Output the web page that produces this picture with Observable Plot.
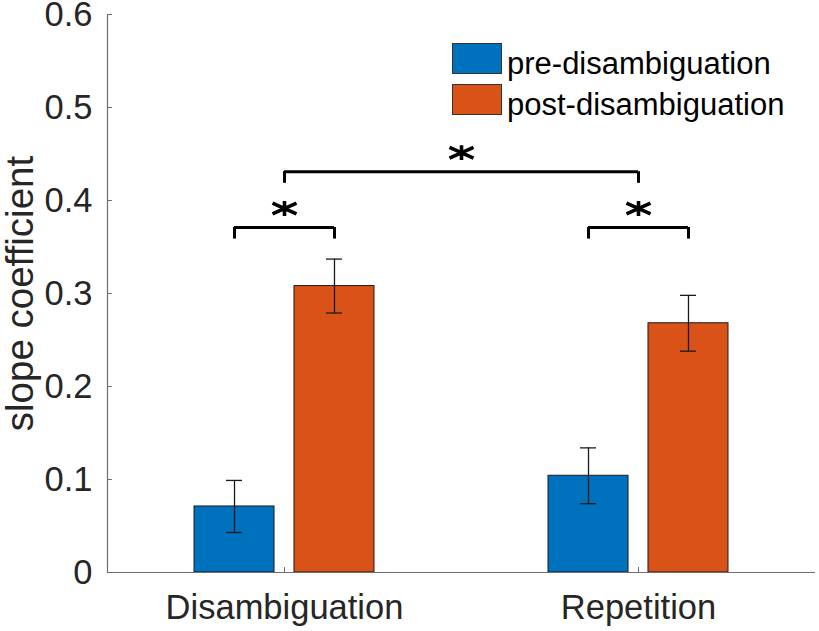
<!DOCTYPE html>
<html><head><meta charset="utf-8">
<script src="https://cdn.jsdelivr.net/npm/d3@7"></script>
<script src="https://cdn.jsdelivr.net/npm/@observablehq/plot@0.6"></script>
<style>
body{margin:0;background:#fff;}
#wrap{position:relative;width:819px;height:631px;font-family:"Liberation Sans",Arial,Helvetica,sans-serif;}
#wrap svg{overflow:visible;}
#legend{position:absolute;left:452px;top:43px;font-size:31px;color:#000;line-height:1;}
#legend .item{display:flex;align-items:center;height:41px;}
#legend .sw{width:48px;height:29px;border:1px solid #333;margin-right:5px;margin-top:-10px;}
</style></head><body><div id="wrap"><div id="legend"></div></div>
<script>
// ---- data ----
const categories = ["Disambiguation", "Repetition"];
const series = ["pre-disambiguation", "post-disambiguation"];
const preValues = [0.071, 0.104];
const preErrors = [0.028, 0.030];
const postValues = [0.308, 0.268];
const postErrors = [0.029, 0.030];
const yTicks = [0, 0.1, 0.2, 0.3, 0.4, 0.5, 0.6];
const colors = ["#0072BD", "#D95319"];
// significance brackets: between bars {group, series} or groups
const sigPairs = [
  {from: {group: 0, series: 0}, to: {group: 0, series: 1}, y: 0.371, label: "*"},
  {from: {group: 1, series: 0}, to: {group: 1, series: 1}, y: 0.371, label: "*"},
  {from: {group: 0}, to: {group: 1}, y: 0.431, label: "*"}
];

// ---- layout constants (MATLAB grouped bar geometry) ----
const barOffset = 0.1412, barWidth = 0.226, capHalf = 0.0226, drop = 0.0125;
const xPos = (g, s) => g + 1 + (s == null ? 0 : (s === 0 ? -barOffset : barOffset));

const rows = [];
categories.forEach((c, g) => {
  rows.push({category: c, series: series[0], value: preValues[g], err: preErrors[g], x: xPos(g, 0)});
  rows.push({category: c, series: series[1], value: postValues[g], err: postErrors[g], x: xPos(g, 1)});
});
const brackets = sigPairs.map(p => ({
  x1: xPos(p.from.group, p.from.series), x2: xPos(p.to.group, p.to.series), y: p.y, label: p.label
}));

const star = {
  draw(ctx, size) {
    const r = Math.sqrt(size / Math.PI);
    ctx.moveTo(0, -0.62 * r); ctx.lineTo(0, 0.62 * r);
    ctx.moveTo(-r, -0.45 * r); ctx.lineTo(r, 0.45 * r);
    ctx.moveTo(-r, 0.45 * r); ctx.lineTo(r, -0.45 * r);
  }
};

const axisGray = "#6e6e6e";
const textColor = "#262626";

const chart = Plot.plot({
  width: 819, height: 631,
  marginLeft: 107, marginRight: 4, marginTop: 14, marginBottom: 59,
  style: {fontFamily: "'Liberation Sans', Arial, Helvetica, sans-serif", color: textColor, background: "#fff", overflow: "visible"},
  x: {domain: [0.5, 2.5]},
  y: {domain: [0, 0.6]},
  color: {domain: series, range: colors},
  marks: [
    Plot.rectY(rows, {x1: d => d.x - barWidth / 2, x2: d => d.x + barWidth / 2, y1: 0, y2: "value", fill: "series", stroke: "#1a1a1a", strokeWidth: 1}),
    Plot.ruleX(rows, {x: "x", y1: d => d.value - d.err, y2: d => d.value + d.err, stroke: "#1a1a1a", strokeWidth: 1.3}),
    Plot.ruleY(rows, {y: d => d.value - d.err, x1: d => d.x - capHalf, x2: d => d.x + capHalf, stroke: "#1a1a1a", strokeWidth: 1.3}),
    Plot.ruleY(rows, {y: d => d.value + d.err, x1: d => d.x - capHalf, x2: d => d.x + capHalf, stroke: "#1a1a1a", strokeWidth: 1.3}),
    // axes lines
    Plot.ruleY([0], {stroke: axisGray, strokeWidth: 1.2}),
    Plot.ruleX([0.5], {y1: 0, y2: 0.6, stroke: axisGray, strokeWidth: 1.2}),
    // inward ticks
    Plot.axisY({ticks: yTicks, tickSize: 5, dx: 5, tickFormat: () => "", label: null, stroke: axisGray}),
    Plot.axisY({ticks: yTicks, tickSize: 0, tickPadding: 15, tickFormat: d => d === 0 ? "0" : d3.format(".1f")(d), label: null, fontSize: 34.5}),
    Plot.axisX({ticks: [1, 2], tickSize: 5, dy: -5, tickFormat: () => "", label: null, stroke: axisGray}),
    Plot.axisX({ticks: [1, 2], tickSize: 0, tickPadding: 22, tickFormat: d => categories[d - 1], label: null, fontSize: 34.5}),
    Plot.text(["slope coefficient"], {frameAnchor: "left", rotate: -90, dx: -102, lineAnchor: "top", textAnchor: "middle", fontSize: 38.5, fill: textColor}),
    // significance brackets
    Plot.ruleY(brackets, {y: "y", x1: "x1", x2: "x2", stroke: "#000", strokeWidth: 3}),
    Plot.ruleX(brackets, {x: "x1", y1: d => d.y - drop, y2: "y", stroke: "#000", strokeWidth: 3}),
    Plot.ruleX(brackets, {x: "x2", y1: d => d.y - drop, y2: "y", stroke: "#000", strokeWidth: 3}),
    Plot.dot(brackets, {x: d => (d.x1 + d.x2) / 2, y: "y", dy: -19, symbol: star, r: 12, stroke: "#000", strokeWidth: 3.6, fill: "none"})
  ]
});
document.getElementById("wrap").prepend(chart);

const legend = document.getElementById("legend");
series.forEach((s, i) => {
  const item = document.createElement("div");
  item.className = "item";
  const sw = document.createElement("div");
  sw.className = "sw";
  sw.style.background = colors[i];
  const t = document.createElement("span");
  t.textContent = s;
  item.append(sw, t);
  legend.append(item);
});
</script></body></html>
